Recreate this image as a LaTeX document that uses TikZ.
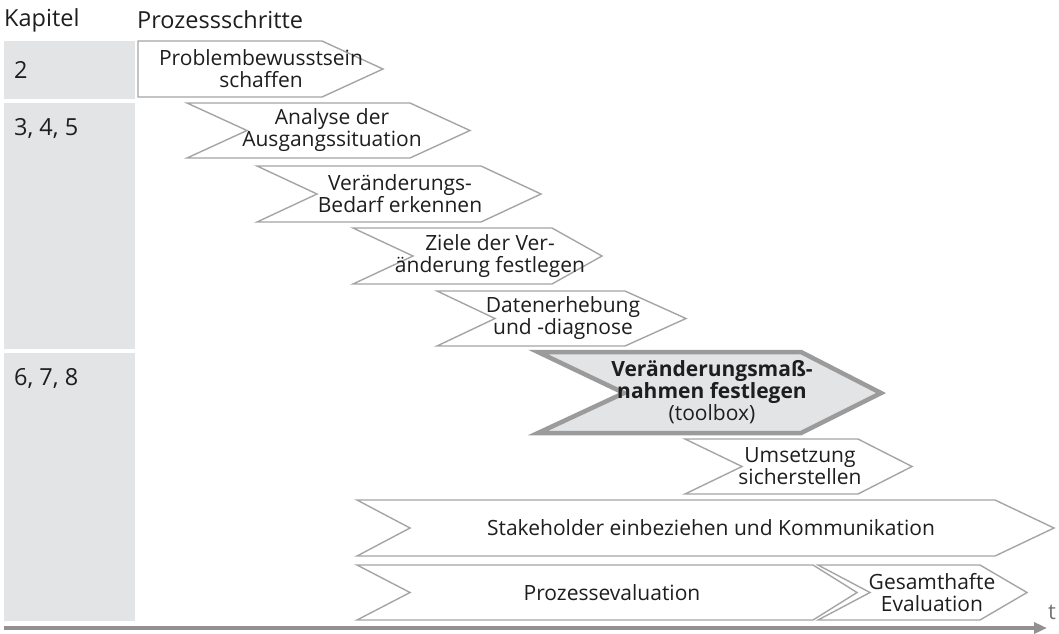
\documentclass[tikz,border=0pt]{standalone}
\usepackage{fontspec}
\setmainfont{Open Sans}
\usetikzlibrary{arrows.meta}
\definecolor{randgrau}{RGB}{165,165,165}
\definecolor{feldgrau}{RGB}{227,228,229}
\definecolor{achsgrau}{RGB}{145,145,145}
\definecolor{schrift}{RGB}{30,30,30}
\tikzset{
	kapfeld/.style={fill=feldgrau},
	schritt/.style={draw=randgrau,line width=1.4pt,fill=white,line join=miter},
	hauptschritt/.style={draw={rgb,255:red,155;green,155;blue,155},line width=4.5pt,fill=feldgrau,line join=miter},
	stext/.style={align=center,text=schrift,font=\fontsize{21}{22}\selectfont,inner sep=0pt},
	ktext/.style={anchor=west,text=schrift,font=\fontsize{23.5}{28}\selectfont,inner sep=0pt},
	zeitachse/.style={draw=achsgrau,line width=3.5pt,-{Triangle[length=13pt,width=11pt]}}
}

\begin{document}
\begin{tikzpicture}[x=1pt,y=-1pt]
	\useasboundingbox (0,0) rectangle (1059,633);

	% Kopfzeile
	\node [ktext] (kap) at (4,20) {Kapitel};
	\node [ktext] (proz) at (137,20) {Prozessschritte};

	% Kapitelfelder
	\fill [kapfeld] (4,41) rectangle (135,99);
	\fill [kapfeld] (4,103) rectangle (135,349);
	\fill [kapfeld] (4,353) rectangle (135,621);
	\node [ktext] (k2) at (14,70) {2};
	\node [ktext] (k345) at (14,128) {3, 4, 5};
	\node [ktext] (k678) at (14,378) {6, 7, 8};

	% Prozessschritte
	\draw [schritt] (138,41) -- (322,41) -- (383,69) -- (322,97) -- (138,97) -- cycle;
	\node [stext] (s1) at (261,69) {Problembewusstsein\\schaffen};

	\draw [schritt] (187,103) -- (410,103) -- (470,130.5) -- (410,158) -- (187,158) -- (247,130.5) -- cycle;
	\node [stext] (s2) at (332,130.5) {Analyse der\\Ausgangssituation};

	\draw [schritt] (257,166) -- (481,166) -- (541,194) -- (481,222) -- (257,222) -- (317,194) -- cycle;
	\node [stext] (s3) at (400,194) {Veränderungs-\\Bedarf erkennen};

	\draw [schritt] (353,228) -- (552,228) -- (602,256) -- (552,284) -- (353,284) -- (413,256) -- cycle;
	\node [stext] (s4) at (490,256) {Ziele der Ver-\\änderung festlegen};

	\draw [schritt] (437,291) -- (625,291) -- (686,318.5) -- (625,346) -- (437,346) -- (495,318.5) -- cycle;
	\node [stext] (s5) at (563,318.5) {Datenerhebung\\und -diagnose};

	\draw [hauptschritt] (538,352) -- (801,352) -- (881,393) -- (801,433) -- (538,433) -- (624,393) -- cycle;
	\node [stext] (s6) at (712,392) {\textbf{Veränderungsmaß-}\\\textbf{nahmen festlegen}\\(toolbox)};

	\draw [schritt] (685,439) -- (858,439) -- (912,466.5) -- (858,494) -- (685,494) -- (742,466.5) -- cycle;
	\node [stext] (s7) at (800,466.5) {Umsetzung\\sicherstellen};

	\draw [schritt] (357,500) -- (995,500) -- (1054,528) -- (995,556) -- (357,556) -- (410,528) -- cycle;
	\node [stext] (s8) at (711,528) {Stakeholder einbeziehen und Kommunikation};

	\draw [schritt] (357,565) -- (813,565) -- (857,592.5) -- (813,620) -- (357,620) -- (410,592.5) -- cycle;
	\node [stext] (s9) at (612,592.5) {Prozessevaluation};

	\draw [schritt] (818,565) -- (980,565) -- (1027,592.5) -- (980,620) -- (818,620) -- (870,592.5) -- cycle;
	\node [stext] (s10) at (932,592.5) {Gesamthafte\\Evaluation};

	% Zeitachse
	\coordinate (t0) at (4,628);
	\coordinate (t1) at (1047,628);
	\draw [zeitachse] (t0) -- (t1);
	\node [text=achsgrau!80!black,font=\fontsize{22}{24}\selectfont,inner sep=0pt] (tl) at (1052,612) {t};
\end{tikzpicture}
\end{document}
